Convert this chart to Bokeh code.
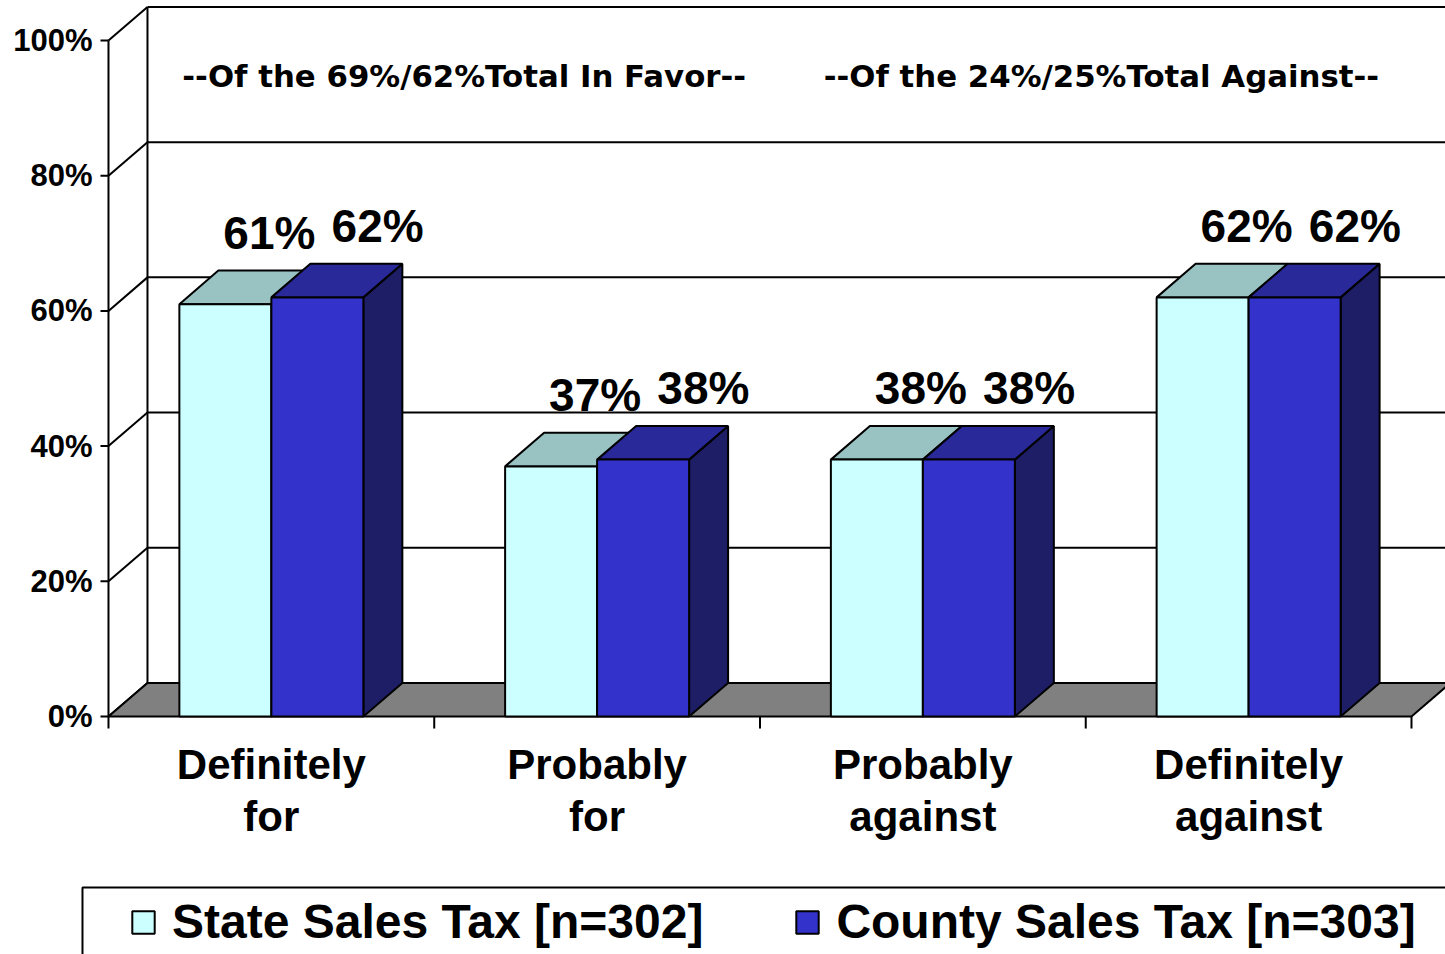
from bokeh.plotting import figure
from bokeh.models import Range1d, Legend, LegendItem
from bokeh.core.properties import value
from bokeh.embed import file_html
from bokeh.resources import INLINE

# ---------------- data ----------------
categories = ["Definitely\nfor", "Probably\nfor", "Probably\nagainst", "Definitely\nagainst"]
state_values = [61, 37, 38, 62]
county_values = [62, 38, 38, 62]
series_names = ["State Sales Tax [n=302]", "County Sales Tax [n=303]"]
y_ticks = [0, 20, 40, 60, 80, 100]
y_tick_labels = ["0%", "20%", "40%", "60%", "80%", "100%"]
headers = ["--Of the 69%/62%Total In Favor--", "--Of the 24%/25%Total Against--"]

# ---------------- style constants ----------------
FONT_NAME = "Liberation Sans"
FONT = value(FONT_NAME)
BAR_W = 0.2824          # width of each bar (category units)
DX = 0.1197             # 3-D depth, horizontal (category units)
DY = 4.96               # 3-D depth, vertical (percent units)
STATE_FRONT, STATE_TOP, STATE_SIDE = "#CCFFFF", "#99C2C2", "#6B9999"
COUNTY_FRONT, COUNTY_TOP, COUNTY_SIDE = "#3333CC", "#29299A", "#1E1E66"
FLOOR = "#808080"

n = len(categories)
X0, X1 = -0.5, n - 0.5
RIGHT_END = X1 + DX + 0.4

p = figure(width=1445, height=954,
           x_range=Range1d(-0.8315, 3.6044), y_range=Range1d(-35.207, 105.917),
           output_backend="svg", toolbar_location=None,
           x_axis_location=None, y_axis_location=None,
           min_border=0, min_border_left=0, min_border_right=0,
           min_border_top=0, min_border_bottom=0)
p.grid.visible = False
p.outline_line_color = None
p.background_fill_color = "white"
p.border_fill_color = "white"

LW = 2
# back wall
p.quad(left=X0 + DX, right=RIGHT_END, bottom=DY, top=100 + DY,
       fill_color="white", line_color=None)
p.segment(x0=[X0 + DX] * len(y_ticks), y0=[t + DY for t in y_ticks],
          x1=[RIGHT_END] * len(y_ticks), y1=[t + DY for t in y_ticks],
          line_color="black", line_width=LW)
p.segment(x0=[X0 + DX], y0=[DY], x1=[X0 + DX], y1=[100 + DY],
          line_color="black", line_width=LW)
# side wall diagonals
p.segment(x0=[X0] * len(y_ticks), y0=y_ticks,
          x1=[X0 + DX] * len(y_ticks), y1=[t + DY for t in y_ticks],
          line_color="black", line_width=LW)
# front value axis + ticks
p.segment(x0=[X0], y0=[0], x1=[X0], y1=[100], line_color="black", line_width=LW)
p.segment(x0=[X0 - 0.0246] * len(y_ticks), y0=y_ticks,
          x1=[X0] * len(y_ticks), y1=y_ticks, line_color="black", line_width=LW)
p.text(x=[X0 - 0.049] * len(y_ticks), y=y_ticks, text=y_tick_labels,
       text_font=FONT, text_font_style="bold", text_font_size="31px",
       text_align="right", text_baseline="middle", text_color="black")

# floor
p.patch([X0, X1, X1 + DX, X0 + DX], [0, 0, DY, DY],
        fill_color=FLOOR, line_color="black", line_width=LW)
# category ticks
bounds = [X0 + k for k in range(n + 1)]
p.segment(x0=bounds, y0=[0] * len(bounds), x1=bounds, y1=[-1.78] * len(bounds),
          line_color="black", line_width=LW)


def bars(vals, left_off, front, top, side):
    lefts = [i + left_off for i in range(n)]
    rights = [l + BAR_W for l in lefts]
    p.patches([[r, r + DX, r + DX, r] for r in rights],
              [[0, DY, v + DY, v] for v in vals],
              fill_color=side, line_color="black", line_width=LW)
    p.patches([[l, r, r + DX, l + DX] for l, r in zip(lefts, rights)],
              [[v, v, v + DY, v + DY] for v in vals],
              fill_color=top, line_color="black", line_width=LW)
    return p.quad(left=lefts, right=rights, bottom=[0] * n, top=vals,
                  fill_color=front, line_color="black", line_width=LW)


r_state = bars(state_values, -BAR_W, STATE_FRONT, STATE_TOP, STATE_SIDE)
r_county = bars(county_values, 0.0, COUNTY_FRONT, COUNTY_TOP, COUNTY_SIDE)

# value labels (placed above the back edge of each bar top)
for vals, off in ((state_values, -BAR_W / 2 + 0.135), (county_values, BAR_W / 2 + 0.185)):
    p.text(x=[i + off for i in range(n)], y=[v + DY + 5.6 for v in vals],
           text=[f"{v}%" for v in vals],
           text_font=FONT, text_font_style="bold", text_font_size="46px",
           text_align="center", text_baseline="alphabetic", text_color="black")

# category labels
p.text(x=list(range(n)), y=[-3.6] * n, text=categories,
       text_font=FONT, text_font_style="bold", text_font_size="42px",
       text_align="center", text_baseline="top", text_line_height=1.12,
       text_color="black")

# header annotations on the back wall
p.text(x=[0.592, 2.548], y=[94.75, 94.75], text=headers,
       text_font=value("DejaVu Sans"), text_font_style="bold", text_font_size="30.8px",
       text_align="center", text_baseline="middle", text_color="black")

# legend box
p.quad(left=[-0.5798], right=[X1 + 1.0], bottom=[-60], top=[-25.30],
       fill_color="white", line_color="black", line_width=LW)

legend = Legend(items=[LegendItem(label=series_names[0], renderers=[r_state]),
                       LegendItem(label=series_names[1], renderers=[r_county])],
                orientation="horizontal", location=(129, 5),
                glyph_width=28, glyph_height=28, label_standoff=15, spacing=90,
                padding=0, margin=0, border_line_color=None,
                background_fill_alpha=0,
                label_text_font=FONT_NAME, label_text_font_style="bold",
                label_text_font_size="48px", label_text_color="black")
p.add_layout(legend)

open("out.html", "w").write(file_html(p, INLINE))
